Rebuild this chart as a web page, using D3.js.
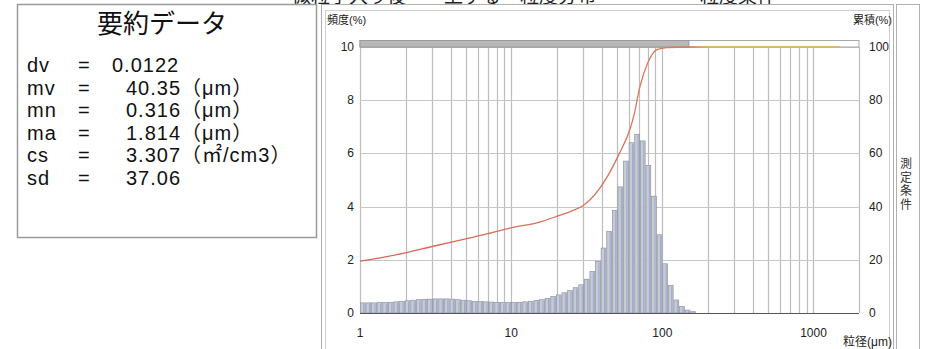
<!DOCTYPE html>
<html>
<head>
<meta charset="utf-8">
<script src="https://cdn.jsdelivr.net/npm/d3@7"></script>
<style>
  html, body { margin: 0; padding: 0; background: #fff; }
  svg { display: block; font-family: "Liberation Sans", Arial, "Noto Sans CJK JP", sans-serif; }
</style>
</head>
<body>
<svg id="chart" width="927" height="349"></svg>
<script>
// 要約データ
const summaryRows = [
  { key: 'dv', value: '0.0122' },
  { key: 'mv', value: '40.35（μm）' },
  { key: 'mn', value: '0.316（μm）' },
  { key: 'ma', value: '1.814（μm）' },
  { key: 'cs', value: '3.307（㎡/cm3）' },
  { key: 'sd', value: '37.06' }
];

// 粒径チャンネル境界 (μm)
const binEdges = [
  1.000, 1.089, 1.186, 1.292, 1.407, 1.532, 1.668, 1.817, 1.979, 2.154,
  2.346, 2.555, 2.783, 3.031, 3.300, 3.594, 3.914, 4.263, 4.642, 5.056,
  5.506, 5.995, 6.529, 7.111, 7.743, 8.433, 9.183, 10.00, 10.89, 11.86,
  12.92, 14.07, 15.32, 16.68, 18.17, 19.79, 21.54, 23.46, 25.55, 27.83,
  30.31, 33.00, 35.94, 39.14, 42.63, 46.42, 50.56, 55.06, 59.95, 65.29,
  71.11, 77.43, 84.33, 91.83, 100.0, 108.9, 118.6, 129.2, 140.7, 153.2, 166.8
];

// 頻度 (%)
const freq = [
  0.38, 0.38, 0.38, 0.39, 0.39, 0.40, 0.42, 0.44, 0.46, 0.48,
  0.50, 0.51, 0.52, 0.53, 0.53, 0.53, 0.52, 0.50, 0.48, 0.46,
  0.44, 0.43, 0.42, 0.41, 0.40, 0.39, 0.39, 0.39, 0.40, 0.42,
  0.44, 0.47, 0.50, 0.55, 0.62, 0.68, 0.76, 0.84, 0.95, 1.06,
  1.27, 1.56, 1.94, 2.44, 3.07, 3.86, 4.74, 5.71, 6.40, 6.72,
  6.47, 5.55, 4.39, 2.94, 1.85, 1.03, 0.49, 0.24, 0.11, 0.05
];

// 累積 (%)
const cumSizes  = [1, 1.5, 2, 3, 5, 7, 10, 15, 20, 25, 30, 43, 52, 61, 65, 71, 80, 92, 107, 150, 1500];
const cumValues = [19.5, 21.2, 22.6, 25, 27.9, 29.8, 32, 34, 36.3, 38.3, 40.4, 51, 60, 69, 74.5, 85, 94, 99, 99.8, 100, 100];

// 測定範囲バー
const measureRange = [1, 150];

const xTickLabels = [1, 10, 100, 1000];
const yLeftTicks = [0, 2, 4, 6, 8, 10];
const yRightTicks = [0, 20, 40, 60, 80, 100];
const headerTabs = ['微粒子入り後　一上ずる', '粒度分布', '粒度条件'];
const sideLabel = ['測', '定', '条', '件'];

const svg = d3.select('#chart');

// 上部の切れたタブ
svg.append('g').selectAll('text')
  .data(headerTabs)
  .join('text')
  .attr('x', (d, i) => [292, 520, 700][i])
  .attr('y', 3)
  .attr('font-size', 19)
  .attr('fill', '#222')
  .text(d => d);

// 要約データの枠
const box = svg.append('g');
box.append('rect')
  .attr('x', 17.5).attr('y', 4.5).attr('width', 299).attr('height', 233)
  .attr('fill', '#fff').attr('stroke', '#9a9a9a').attr('stroke-width', 1.5);
box.append('text')
  .attr('x', 162).attr('y', 33)
  .attr('text-anchor', 'middle')
  .attr('font-size', 26)
  .attr('fill', '#111')
  .text('要約データ');

const rows = box.selectAll('.row')
  .data(summaryRows)
  .join('g')
  .attr('class', 'row')
  .attr('transform', (d, i) => `translate(0, ${72 + i * 22.6})`)
  .attr('font-size', 20)
  .attr('letter-spacing', 1)
  .attr('fill', '#111');
rows.append('text').attr('x', 27).text(d => d.key);
rows.append('text').attr('x', 78).text('=');
rows.append('text').attr('x', (d, i) => i === 0 ? 112 : 126).text(d => d.value);

// グラフ枠
const frame = svg.append('g').attr('fill', 'none').attr('stroke', '#b0b0b0');
frame.append('rect').attr('x', 321.5).attr('y', 4.5).attr('width', 572).attr('height', 360);
frame.append('rect').attr('x', 325.5).attr('y', 10.5).attr('width', 564).attr('height', 360).attr('stroke', '#cfcfcf');
frame.append('rect').attr('x', 896.5).attr('y', 4.5).attr('width', 23).attr('height', 360);

svg.append('g').selectAll('text')
  .data(sideLabel)
  .join('text')
  .attr('x', 906).attr('y', (d, i) => 168 + i * 13.5)
  .attr('text-anchor', 'middle')
  .attr('font-size', 12)
  .attr('fill', '#333')
  .text(d => d);

// スケール
const x = d3.scaleLog().domain([1, 2000]).range([360, 859]);
const y = d3.scaleLinear().domain([0, 10]).range([313, 47]);
const yR = d3.scaleLinear().domain([0, 100]).range([313, 47]);

const plot = svg.append('g');

// グリッド
plot.append('g')
  .selectAll('line')
  .data(x.ticks())
  .join('line')
  .attr('x1', d => Math.round(x(d)) + 0.5).attr('x2', d => Math.round(x(d)) + 0.5)
  .attr('y1', y(10)).attr('y2', y(0))
  .attr('stroke', '#bdbdbd').attr('stroke-width', 1.2);

plot.append('g')
  .selectAll('line')
  .data(yLeftTicks.filter(d => d > 0))
  .join('line')
  .attr('x1', x(1)).attr('x2', x(2000))
  .attr('y1', d => Math.round(y(d)) + 0.5).attr('y2', d => Math.round(y(d)) + 0.5)
  .attr('stroke', '#c6c6c6').attr('stroke-width', 1.2);

// 測定範囲バー
plot.append('rect')
  .attr('x', x(1)).attr('y', 40.5)
  .attr('width', x(2000) - x(1)).attr('height', 6.5)
  .attr('fill', '#fff').attr('stroke', '#a8a8a8');
plot.append('rect')
  .attr('x', x(measureRange[0])).attr('y', 40.5)
  .attr('width', x(measureRange[1]) - x(measureRange[0])).attr('height', 6.5)
  .attr('fill', '#b8b8b8').attr('stroke', '#9a9a9a');

// 頻度バー
const bars = plot.append('g')
  .selectAll('g')
  .data(freq)
  .join('g');
bars.append('rect')
  .attr('x', (d, i) => x(binEdges[i]) + 0.4)
  .attr('y', d => y(d))
  .attr('width', (d, i) => x(binEdges[i + 1]) - x(binEdges[i]) - 0.8)
  .attr('height', d => y(0) - y(d))
  .attr('fill', '#c7cbd3')
  .attr('stroke', '#8d93a2')
  .attr('stroke-width', 0.7);
bars.append('line')
  .attr('x1', (d, i) => (x(binEdges[i]) + x(binEdges[i + 1])) / 2 + 1)
  .attr('x2', (d, i) => (x(binEdges[i]) + x(binEdges[i + 1])) / 2 + 1)
  .attr('y1', d => y(d) + 1)
  .attr('y2', y(0))
  .attr('stroke', '#6c82d6')
  .attr('stroke-opacity', 0.6)
  .attr('stroke-width', 0.8);

// 軸線
plot.append('line')
  .attr('x1', x(1)).attr('x2', x(2000))
  .attr('y1', y(0) + 0.5).attr('y2', y(0) + 0.5)
  .attr('stroke', '#555').attr('stroke-width', 1.2);

// 累積カーブ
const grad = svg.append('defs').append('linearGradient')
  .attr('id', 'cumGrad')
  .attr('gradientUnits', 'userSpaceOnUse')
  .attr('x1', x(1)).attr('x2', x(2000)).attr('y1', 0).attr('y2', 0);
const stopAt = (x(measureRange[1]) - x(1)) / (x(2000) - x(1));
grad.append('stop').attr('offset', 0).attr('stop-color', '#d8645a');
grad.append('stop').attr('offset', stopAt).attr('stop-color', '#dc7a58');
grad.append('stop').attr('offset', stopAt + 0.04).attr('stop-color', '#e8b04a');
grad.append('stop').attr('offset', 1).attr('stop-color', '#e8b04a');

plot.append('path')
  .datum(cumSizes.map((s, i) => [s, cumValues[i]]))
  .attr('fill', 'none')
  .attr('stroke', 'url(#cumGrad)')
  .attr('stroke-width', 1.3)
  .attr('d', d3.line()
    .x(d => x(d[0]))
    .y(d => yR(d[1]))
    .curve(d3.curveMonotoneX));

// 目盛ラベル
const labels = svg.append('g').attr('font-size', 12).attr('fill', '#222');
labels.selectAll('.yl')
  .data(yLeftTicks)
  .join('text')
  .attr('x', 354).attr('y', d => y(d) + 4)
  .attr('text-anchor', 'end')
  .text(d => d);
labels.selectAll('.yr')
  .data(yRightTicks)
  .join('text')
  .attr('x', 869).attr('y', d => yR(d) + 4)
  .text(d => d);
labels.selectAll('.xl')
  .data(xTickLabels)
  .join('text')
  .attr('x', d => x(d)).attr('y', 337)
  .attr('text-anchor', 'middle')
  .text(d => d);

labels.append('text').attr('x', 327).attr('y', 24).attr('font-size', 11).text('頻度(%)');
labels.append('text').attr('x', 892).attr('y', 24).attr('font-size', 11).attr('text-anchor', 'end').text('累積(%)');
labels.append('text').attr('x', 892).attr('y', 346).attr('text-anchor', 'end').text('粒径(μm)');
</script>
</body>
</html>
